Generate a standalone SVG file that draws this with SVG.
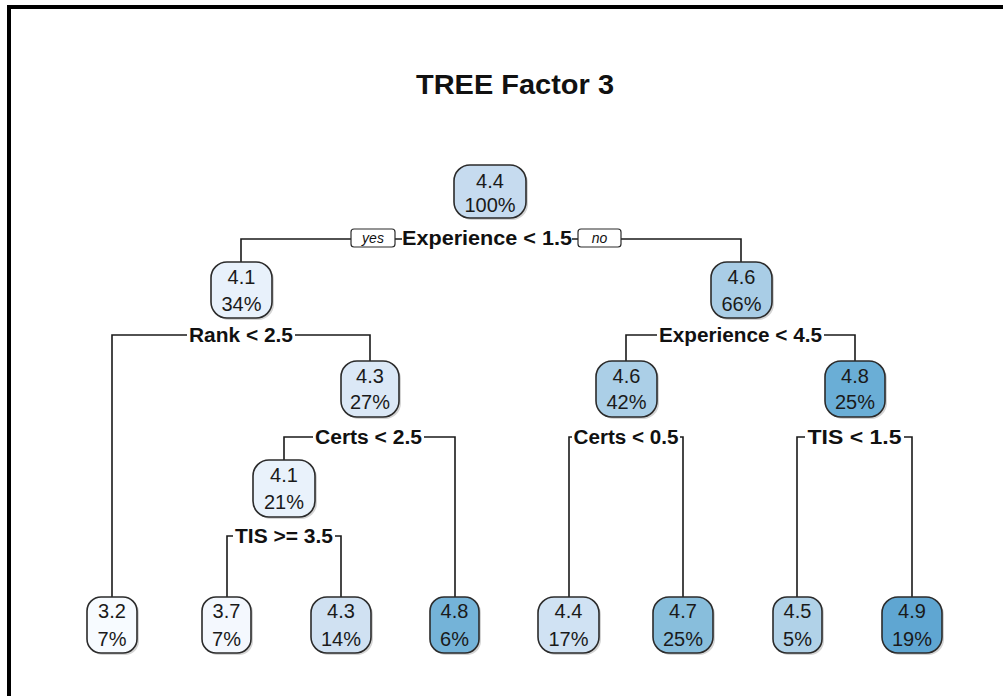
<svg xmlns="http://www.w3.org/2000/svg" width="1003" height="696" viewBox="0 0 1003 696">
  <style>
    .title { font-family: "Liberation Sans", Arial, sans-serif; font-weight: bold; font-size: 28px; fill: #111; }
    .box { stroke: #2b2b2b; stroke-width: 1.6; }
    .shadow { fill: #d4d4d4; }
    .val { font-family: "Liberation Sans", Arial, sans-serif; font-size: 20px; fill: #1a1a1a; text-anchor: middle; }
    .split { font-family: "Liberation Sans", Arial, sans-serif; font-weight: bold; font-size: 20px; fill: #111; text-anchor: middle; }
    .lblbg { fill: #ffffff; }
    .tag { fill: #ffffff; stroke: #2b2b2b; stroke-width: 1.2; }
    .tagtxt { font-family: "Liberation Sans", Arial, sans-serif; font-style: italic; font-size: 14px; fill: #111; text-anchor: middle; }
    .edge { fill: none; stroke: #1a1a1a; stroke-width: 1.6; }
  </style>

  <rect width="1003" height="696" fill="#ffffff"/>
  <!-- frame: top and left rules -->
  <rect x="7" y="5" width="996" height="4" fill="#000"/>
  <rect x="7" y="5" width="4" height="691" fill="#000"/>

  <text class="title" x="515" y="94" text-anchor="middle" textLength="198" lengthAdjust="spacingAndGlyphs">TREE Factor 3</text>

  <g id="connectors">
    <!-- root split -->
    <path class="edge" d="M241 262 V239 H741 V262"/>
    <!-- Rank < 2.5 -->
    <path class="edge" d="M112 597 V335 H370 V361"/>
    <!-- Experience < 4.5 -->
    <path class="edge" d="M626 361 V335 H855 V361"/>
    <!-- Certs < 2.5 -->
    <path class="edge" d="M284 460 V437 H455 V597"/>
    <!-- TIS >= 3.5 -->
    <path class="edge" d="M227 597 V536 H341 V597"/>
    <!-- Certs < 0.5 -->
    <path class="edge" d="M569 597 V437 H683 V597"/>
    <!-- TIS < 1.5 -->
    <path class="edge" d="M797 597 V437 H912 V597"/>
  </g>

  <!-- split labels -->
  <g id="split-root">
    <rect class="lblbg" x="402" y="228" width="170" height="20"/>
    <text class="split" x="487" y="245" textLength="170" lengthAdjust="spacingAndGlyphs">Experience &lt; 1.5</text>
    <rect class="tag" x="351" y="229" width="44" height="18" rx="3"/>
    <text class="tagtxt" x="373" y="243">yes</text>
    <rect class="tag" x="578" y="229" width="43" height="18" rx="3"/>
    <text class="tagtxt" x="599.5" y="243">no</text>
  </g>
  <g id="split-rank">
    <rect class="lblbg" x="187" y="325" width="108" height="20"/>
    <text class="split" x="241" y="342" textLength="104" lengthAdjust="spacingAndGlyphs">Rank &lt; 2.5</text>
  </g>
  <g id="split-exp45">
    <rect class="lblbg" x="657" y="325" width="167" height="20"/>
    <text class="split" x="740.5" y="342" textLength="163" lengthAdjust="spacingAndGlyphs">Experience &lt; 4.5</text>
  </g>
  <g id="split-certs25">
    <rect class="lblbg" x="313" y="427" width="111" height="20"/>
    <text class="split" x="368.5" y="444" textLength="107" lengthAdjust="spacingAndGlyphs">Certs &lt; 2.5</text>
  </g>
  <g id="split-tis35">
    <rect class="lblbg" x="233" y="526" width="102" height="20"/>
    <text class="split" x="284" y="543" textLength="98" lengthAdjust="spacingAndGlyphs">TIS &gt;= 3.5</text>
  </g>
  <g id="split-certs05">
    <rect class="lblbg" x="572" y="427" width="108" height="20"/>
    <text class="split" x="626" y="444" textLength="105" lengthAdjust="spacingAndGlyphs">Certs &lt; 0.5</text>
  </g>
  <g id="split-tis15">
    <rect class="lblbg" x="805" y="427" width="99" height="20"/>
    <text class="split" x="854.5" y="444" textLength="94" lengthAdjust="spacingAndGlyphs">TIS &lt; 1.5</text>
  </g>

  <!-- internal nodes -->
  <g id="node-root">
    <rect class="shadow" x="456" y="167" width="72" height="53" rx="16"/>
    <rect class="box" x="454" y="165" width="72" height="53" rx="16" fill="#c6dbef"/>
    <text class="val" x="490" y="188">4.4</text>
    <text class="val" x="490" y="212">100%</text>
  </g>
  <g id="node-n2">
    <rect class="shadow" x="213" y="264" width="61" height="56" rx="16"/>
    <rect class="box" x="211" y="262" width="61" height="56" rx="16" fill="#e8f1fb"/>
    <text class="val" x="241.5" y="284">4.1</text>
    <text class="val" x="241.5" y="311">34%</text>
  </g>
  <g id="node-n3">
    <rect class="shadow" x="713" y="264" width="61" height="56" rx="16"/>
    <rect class="box" x="711" y="262" width="61" height="56" rx="16" fill="#a9cde6"/>
    <text class="val" x="741.5" y="284">4.6</text>
    <text class="val" x="741.5" y="311">66%</text>
  </g>
  <g id="node-n5">
    <rect class="shadow" x="343" y="363" width="58" height="56" rx="16"/>
    <rect class="box" x="341" y="361" width="58" height="56" rx="16" fill="#dbe8f6"/>
    <text class="val" x="370" y="383">4.3</text>
    <text class="val" x="370" y="409">27%</text>
  </g>
  <g id="node-n6">
    <rect class="shadow" x="598" y="363" width="61" height="56" rx="16"/>
    <rect class="box" x="596" y="361" width="61" height="56" rx="16" fill="#abcfe7"/>
    <text class="val" x="626.5" y="383">4.6</text>
    <text class="val" x="626.5" y="409">42%</text>
  </g>
  <g id="node-n7">
    <rect class="shadow" x="827" y="363" width="60" height="56" rx="16"/>
    <rect class="box" x="825" y="361" width="60" height="56" rx="16" fill="#6aaed6"/>
    <text class="val" x="855" y="383">4.8</text>
    <text class="val" x="855" y="409">25%</text>
  </g>
  <g id="node-n10">
    <rect class="shadow" x="255" y="462" width="62" height="57" rx="16"/>
    <rect class="box" x="253" y="460" width="62" height="57" rx="16" fill="#e9f2fb"/>
    <text class="val" x="284" y="482">4.1</text>
    <text class="val" x="284" y="509">21%</text>
  </g>

  <!-- leaves -->
  <g id="leaf-1">
    <rect class="shadow" x="89" y="599" width="50" height="56" rx="14"/>
    <rect class="box" x="87" y="597" width="50" height="56" rx="14" fill="#f7fbff"/>
    <text class="val" x="112" y="618">3.2</text>
    <text class="val" x="112" y="646">7%</text>
  </g>
  <g id="leaf-2">
    <rect class="shadow" x="204" y="599" width="49" height="56" rx="14"/>
    <rect class="box" x="202" y="597" width="49" height="56" rx="14" fill="#f4f8fe"/>
    <text class="val" x="226.5" y="618">3.7</text>
    <text class="val" x="226.5" y="646">7%</text>
  </g>
  <g id="leaf-3">
    <rect class="shadow" x="313" y="599" width="60" height="56" rx="16"/>
    <rect class="box" x="311" y="597" width="60" height="56" rx="16" fill="#d0e1f2"/>
    <text class="val" x="341" y="618">4.3</text>
    <text class="val" x="341" y="646">14%</text>
  </g>
  <g id="leaf-4">
    <rect class="shadow" x="432" y="599" width="49" height="56" rx="14"/>
    <rect class="box" x="430" y="597" width="49" height="56" rx="14" fill="#74b3d8"/>
    <text class="val" x="454.5" y="618">4.8</text>
    <text class="val" x="454.5" y="646">6%</text>
  </g>
  <g id="leaf-5">
    <rect class="shadow" x="540" y="599" width="61" height="56" rx="16"/>
    <rect class="box" x="538" y="597" width="61" height="56" rx="16" fill="#d0e2f3"/>
    <text class="val" x="568.5" y="618">4.4</text>
    <text class="val" x="568.5" y="646">17%</text>
  </g>
  <g id="leaf-6">
    <rect class="shadow" x="655" y="599" width="60" height="56" rx="16"/>
    <rect class="box" x="653" y="597" width="60" height="56" rx="16" fill="#88bedc"/>
    <text class="val" x="683" y="618">4.7</text>
    <text class="val" x="683" y="646">25%</text>
  </g>
  <g id="leaf-7">
    <rect class="shadow" x="775" y="599" width="49" height="56" rx="14"/>
    <rect class="box" x="773" y="597" width="49" height="56" rx="14" fill="#b1d2e8"/>
    <text class="val" x="797.5" y="618">4.5</text>
    <text class="val" x="797.5" y="646">5%</text>
  </g>
  <g id="leaf-8">
    <rect class="shadow" x="884" y="599" width="60" height="56" rx="16"/>
    <rect class="box" x="882" y="597" width="60" height="56" rx="16" fill="#5fa6d2"/>
    <text class="val" x="912" y="618">4.9</text>
    <text class="val" x="912" y="646">19%</text>
  </g>
</svg>
